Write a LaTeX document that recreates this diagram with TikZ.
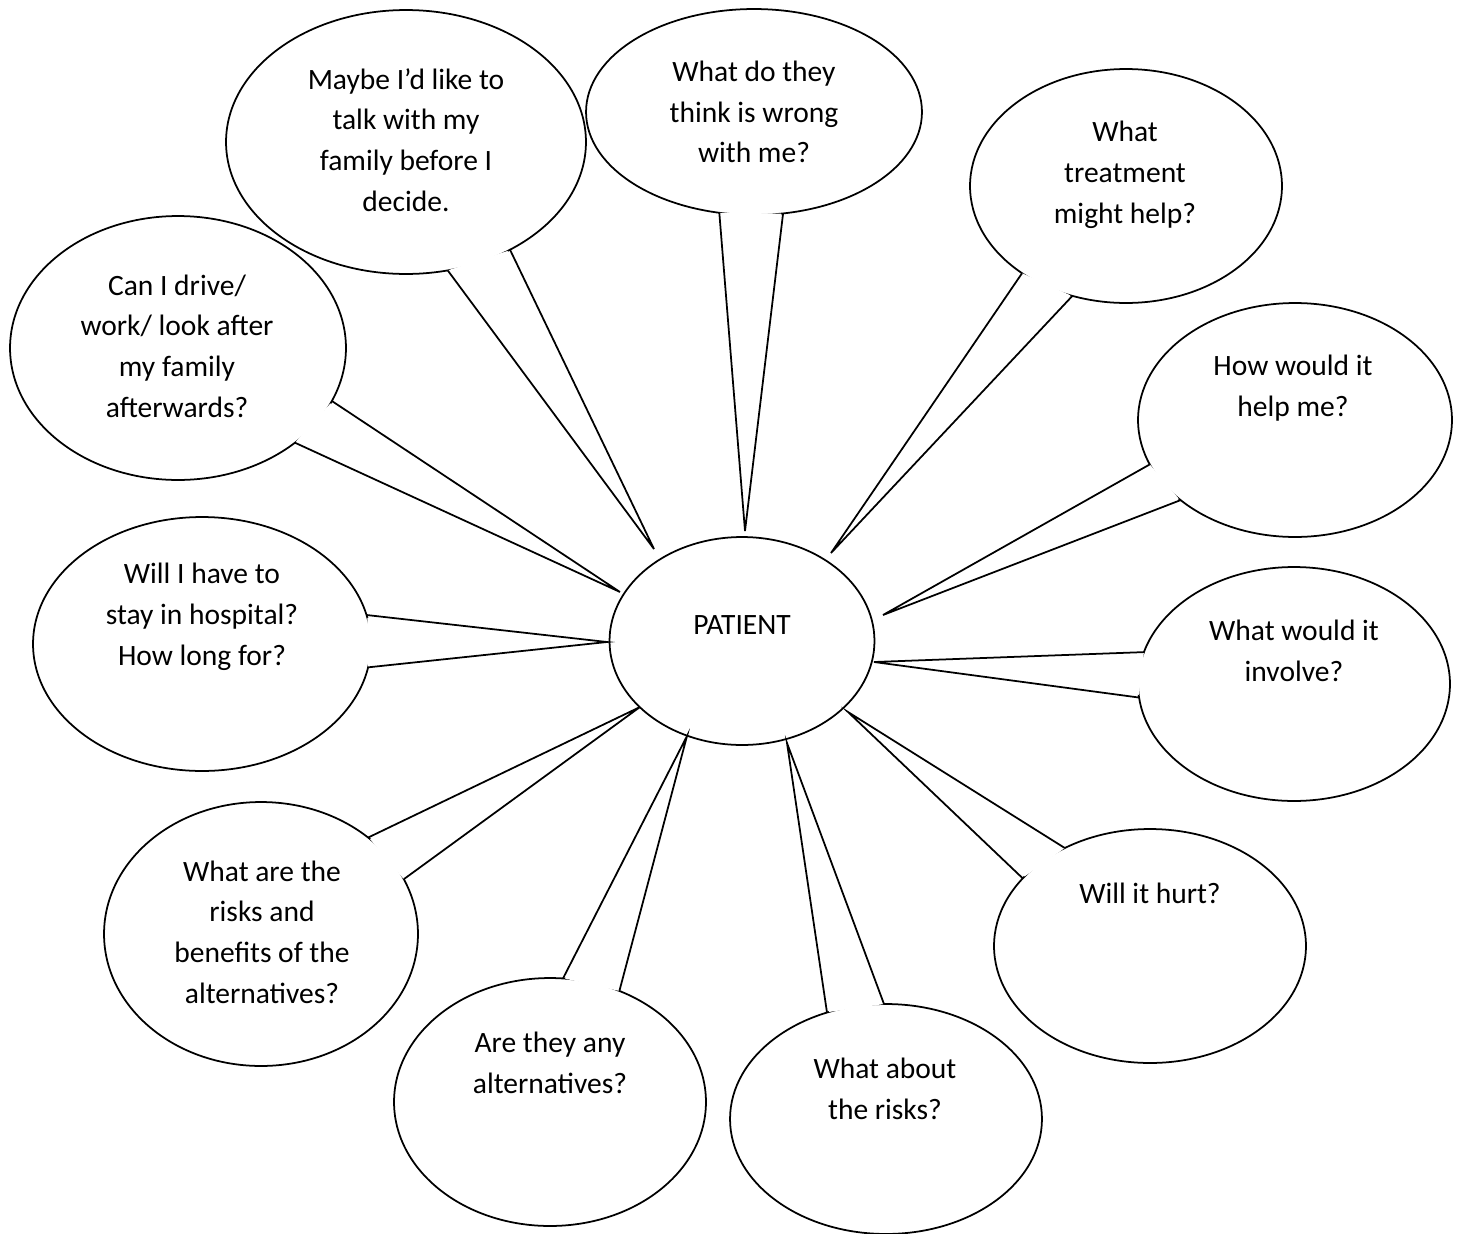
\documentclass[tikz,border=0pt]{standalone}
\usepackage{fontspec}
\setmainfont{Carlito}
\usepackage{tikz}
\usetikzlibrary{shapes.geometric}

\begin{document}
\begin{tikzpicture}[
    x=0.02cm, y=-0.02cm,
    line width=1pt,
    bubble/.style={draw, ellipse, inner sep=0pt, outer sep=0pt},
    txt/.style={align=center, inner sep=0pt, font=\fontsize{16.8}{23.2}\selectfont},
    gap/.style={fill=white},
    tail/.style={draw, line join=miter}
]
\useasboundingbox (0,0) rectangle (1461,1234);

% Centre
\node[bubble, minimum width=5.30cm, minimum height=4.16cm] (patient) at (742,641) {};
\node[txt] (patient-t) at (742,625) {PATIENT};

% Questions (outlines)
\node[bubble, minimum width=7.20cm, minimum height=5.28cm] (decide) at (406,142) {};
\node[bubble, minimum width=6.72cm, minimum height=4.12cm] (wrong) at (754,112) {};
\node[bubble, minimum width=6.24cm, minimum height=4.68cm] (treat) at (1126,186) {};
\node[bubble, minimum width=6.28cm, minimum height=4.68cm] (help) at (1295,420) {};
\node[bubble, minimum width=6.24cm, minimum height=4.68cm] (involve) at (1294,684) {};
\node[bubble, minimum width=6.24cm, minimum height=4.68cm] (hurt) at (1150,946) {};
\node[bubble, minimum width=6.24cm, minimum height=4.60cm] (risks) at (886,1119) {};
\node[bubble, minimum width=6.24cm, minimum height=4.96cm] (altern) at (550,1102) {};
\node[bubble, minimum width=6.28cm, minimum height=5.28cm] (benefit) at (261,934) {};
\node[bubble, minimum width=6.76cm, minimum height=5.08cm] (stay) at (202,644) {};
\node[bubble, minimum width=6.72cm, minimum height=5.28cm] (drive) at (178,348) {};

% Questions (text)
\node[txt] (decide-t) at (406,140) {Maybe I’d like to\\talk with my\\family before I\\decide.};
\node[txt] (wrong-t) at (754,112) {What do they\\think is wrong\\with me?};
\node[txt] (treat-t) at (1125,175) {What\\treatment\\might help?};
\node[txt] (help-t) at (1293,388) {How would it\\help me?};
\node[txt] (involve-t) at (1294,651) {What would it\\involve?};
\node[txt] (hurt-t) at (1150,893) {Will it hurt?};
\node[txt] (risks-t) at (885,1089) {What about\\the risks?};
\node[txt] (altern-t) at (550,1063) {Are they any\\alternatives?};
\node[txt] (benefit-t) at (262,932) {What are the\\risks and\\benefits of the\\alternatives?};
\node[txt] (stay-t) at (202,617) {Will I have to\\stay in hospital?\\How long for?};
\node[txt] (drive-t) at (177,346) {Can I drive/\\work/ look after\\my family\\afterwards?};

% Tail tips next to the centre
\coordinate (t-decide) at (654,549);
\coordinate (t-wrong) at (745,531);
\coordinate (t-treat) at (831,553);
\coordinate (t-help) at (883,615);
\coordinate (t-involve) at (874,662);
\coordinate (t-hurt) at (848,712);
\coordinate (t-risks) at (787,743);
\coordinate (t-altern) at (687,736);
\coordinate (t-benefit) at (640,707);
\coordinate (t-stay) at (607,642);
\coordinate (t-drive) at (620,592);

% Tails: open the outline, then draw the two sides
\fill[gap] (decide.288.5) -- (t-decide) -- (decide.313.5) -- cycle;
\draw[tail] (decide.288) -- (t-decide) -- (decide.314);
\fill[gap] (wrong.251.5) -- (t-wrong) -- (wrong.285.5) -- cycle;
\draw[tail] (wrong.251) -- (t-wrong) -- (wrong.286);
\fill[gap] (treat.220.5) -- (t-treat) -- (treat.243.5) -- cycle;
\draw[tail] (treat.220) -- (t-treat) -- (treat.244);
\fill[gap] (help.197.5) -- (t-help) -- (help.214.5) -- cycle;
\draw[tail] (help.197) -- (t-help) -- (help.215);
\fill[gap] (involve.168.5) -- (t-involve) -- (involve.184.5) -- cycle;
\draw[tail] (involve.168) -- (t-involve) -- (involve.185);
\fill[gap] (hurt.131.5) -- (t-hurt) -- (hurt.151.5) -- cycle;
\draw[tail] (hurt.131) -- (t-hurt) -- (hurt.152);
\fill[gap] (risks.91.5) -- (t-risks) -- (risks.118.5) -- cycle;
\draw[tail] (risks.91) -- (t-risks) -- (risks.119);
\fill[gap] (altern.58.5) -- (t-altern) -- (altern.83.5) -- cycle;
\draw[tail] (altern.58) -- (t-altern) -- (altern.84);
\fill[gap] (benefit.21.5) -- (t-benefit) -- (benefit.41.5) -- cycle;
\draw[tail] (benefit.21) -- (t-benefit) -- (benefit.42);
\fill[gap] (stay.352.5) -- (t-stay) -- (stay.9.5) -- cycle;
\draw[tail] (stay.352) -- (t-stay) -- (stay.10);
\fill[gap] (drive.321.5) -- (t-drive) -- (drive.340.5) -- cycle;
\draw[tail] (drive.321) -- (t-drive) -- (drive.341);

\end{tikzpicture}
\end{document}
